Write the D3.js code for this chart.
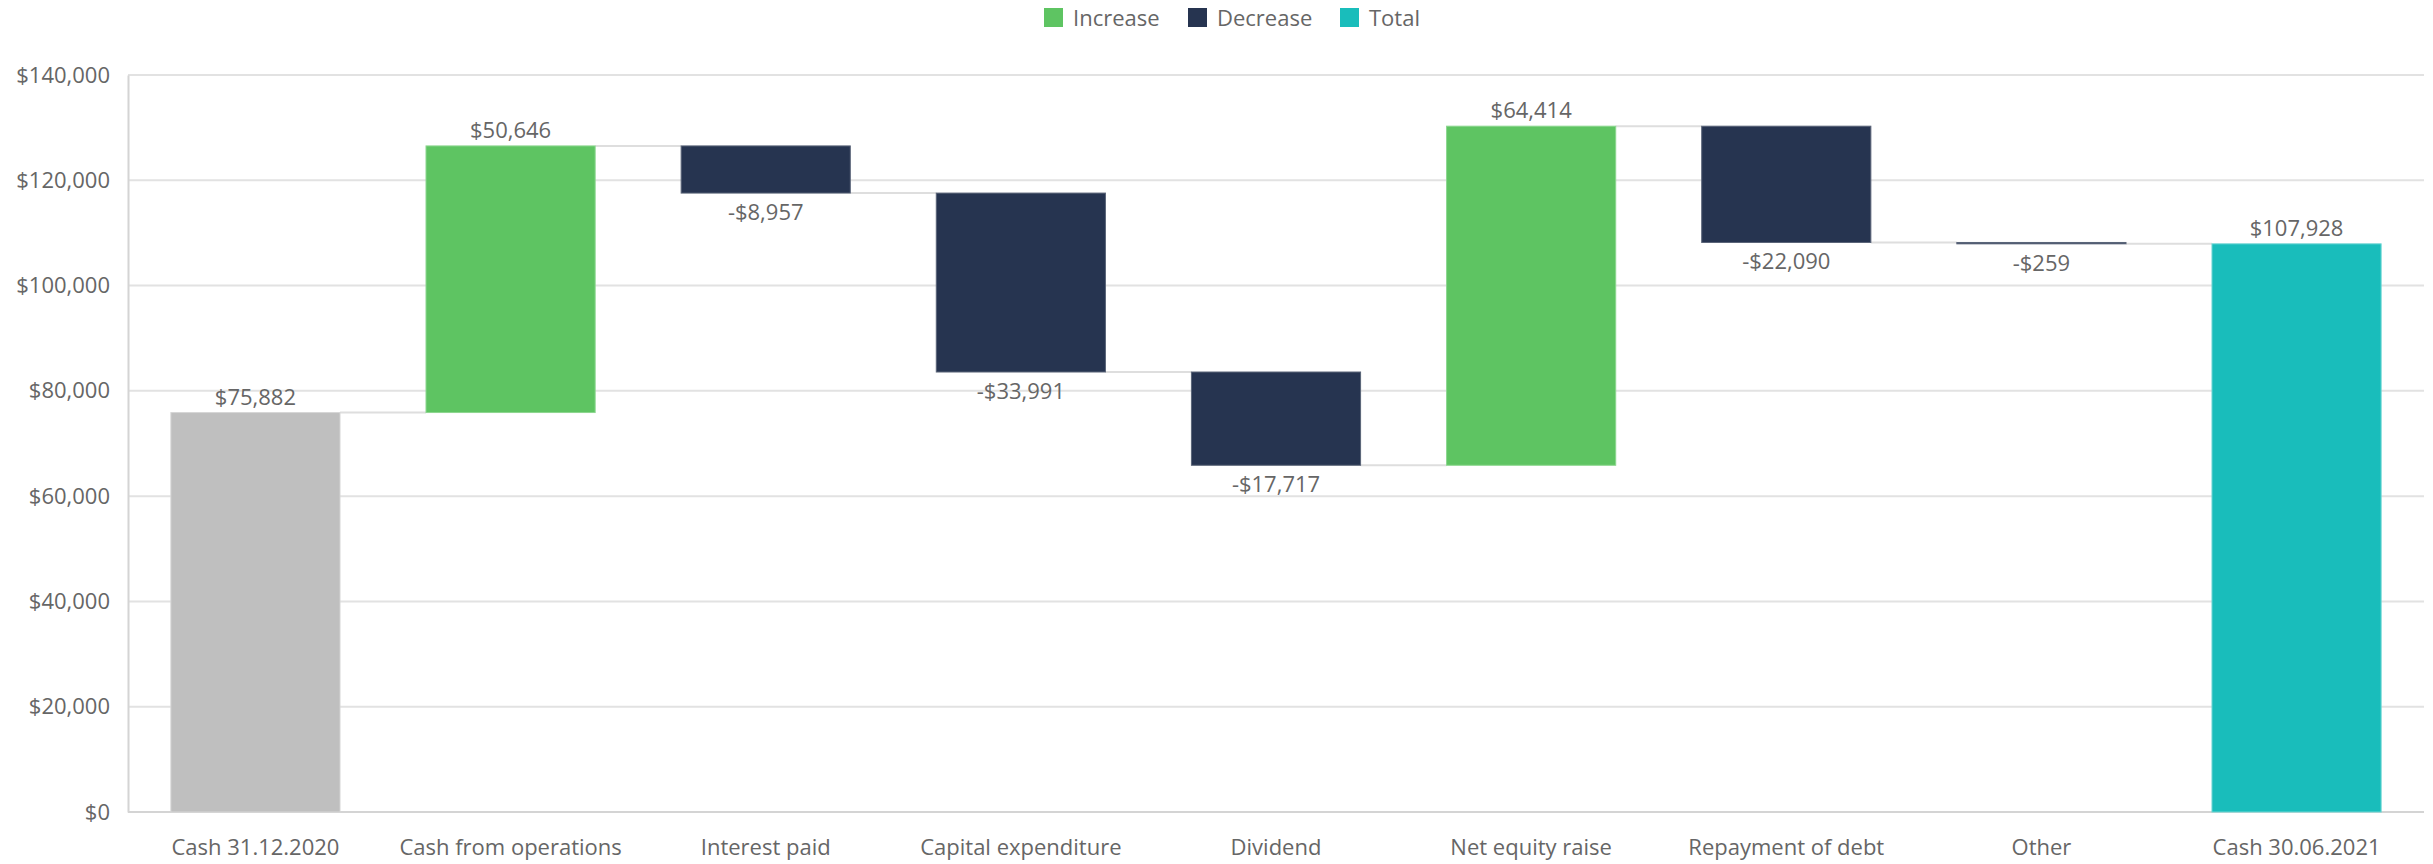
<!DOCTYPE html>
<html>
<head>
<meta charset="utf-8">
<script src="https://cdn.jsdelivr.net/npm/d3@7"></script>
<style>
  body { margin: 0; background: #fff; }
  svg text { font-family: "Open Sans", "Noto Sans", sans-serif; fill: #666; }
</style>
</head>
<body>
<div id="chart"></div>
<script>
// chart data
var categories = ["Cash 31.12.2020", "Cash from operations", "Interest paid", "Capital expenditure",
                  "Dividend", "Net equity raise", "Repayment of debt", "Other", "Cash 30.06.2021"];
var changes = [75882, 50646, -8957, -33991, -17717, 64414, -22090, -259, 107928];
var kinds = ["start", "inc", "dec", "dec", "dec", "inc", "dec", "dec", "total"];
var yTicks = [0, 20000, 40000, 60000, 80000, 100000, 120000, 140000];
var legendNames = ["Increase", "Decrease", "Total"];

var colors = { start: "#bfbfbf", inc: "#5ec462", dec: "#263450", total: "#19bdbb" };
var strokes = { start: "#d6d6d6", inc: "#8cd68f", dec: "#5a6478", total: "#6fd6d4" };

var W = 2433, H = 864;
var margin = { top: 75, right: 9, bottom: 52, left: 128 };
var w = W - margin.left - margin.right;
var h = H - margin.top - margin.bottom;

// build running totals
var running = 0;
var dataset = categories.map(function (c, i) {
  var d = { name: c, kind: kinds[i], value: changes[i] };
  if (d.kind == "start" || d.kind == "total") {
    d.y0 = 0; d.y1 = changes[i]; running = changes[i];
  } else {
    d.y0 = running; running = running + changes[i]; d.y1 = running;
  }
  return d;
});

var svg = d3.select("#chart").append("svg")
  .attr("width", W).attr("height", H);

var g = svg.append("g")
  .attr("transform", "translate(" + margin.left + "," + margin.top + ")");

var x = d3.scaleBand().domain(categories).range([0, w]).paddingInner(0.337).paddingOuter(0.168);
var y = d3.scaleLinear().domain([0, 140000]).range([h, 0]);

var fmt = function (v) { return (v < 0 ? "-$" : "$") + d3.format(",")(Math.abs(v)); };

// gridlines
g.selectAll("line.grid").data(yTicks).enter().append("line")
  .attr("class", "grid")
  .attr("x1", 0).attr("x2", w)
  .attr("y1", function (d) { return y(d); }).attr("y2", function (d) { return y(d); })
  .attr("stroke", function (d) { return d == 0 ? "#d4d4d4" : "#e2e2e2"; })
  .attr("stroke-width", 2);

// y axis
var yAxis = d3.axisLeft(y).tickValues(yTicks).tickSize(0).tickPadding(18)
  .tickFormat(function (d) { return "$" + d3.format(",")(d); });
g.append("g").call(yAxis)
  .call(function (a) { a.select(".domain").attr("stroke", "#d4d4d4").attr("stroke-width", 2); })
  .selectAll("text").style("font-size", "22px").attr("fill", "#666");

// x axis
var xAxis = d3.axisBottom(x).tickSize(0).tickPadding(27);
g.append("g").attr("transform", "translate(0," + h + ")").call(xAxis)
  .call(function (a) { a.select(".domain").remove(); })
  .selectAll("text").style("font-size", "22px").attr("fill", "#666");

// connector lines
g.selectAll("line.conn").data(dataset.slice(0, -1)).enter().append("line")
  .attr("class", "conn")
  .attr("x1", function (d) { return x(d.name) + x.bandwidth(); })
  .attr("x2", function (d, i) { return x(categories[i + 1]); })
  .attr("y1", function (d) { return y(d.y1); })
  .attr("y2", function (d) { return y(d.y1); })
  .attr("stroke", "#dedede").attr("stroke-width", 2);

// bars
g.selectAll("rect.bar").data(dataset).enter().append("rect")
  .attr("class", "bar")
  .attr("x", function (d) { return x(d.name); })
  .attr("width", x.bandwidth())
  .attr("y", function (d) { return y(Math.max(d.y0, d.y1)); })
  .attr("height", function (d) { return Math.max(1, Math.abs(y(d.y0) - y(d.y1))); })
  .attr("fill", function (d) { return colors[d.kind]; })
  .attr("stroke", function (d) { return strokes[d.kind]; })
  .attr("stroke-width", 1);

// value labels
g.selectAll("text.val").data(dataset).enter().append("text")
  .attr("class", "val")
  .attr("text-anchor", "middle")
  .attr("x", function (d) { return x(d.name) + x.bandwidth() / 2; })
  .attr("y", function (d) {
    return d.kind == "dec" ? y(d.y1) + 27 : y(d.y1) - 8;
  })
  .style("font-size", "22px")
  .text(function (d) { return fmt(d.value); });

// legend
var legend = svg.append("g").attr("transform", "translate(1044,8)");
var legendColors = [colors.inc, colors.dec, colors.total];
var offsets = [0, 144, 296];
legendNames.forEach(function (n, i) {
  var it = legend.append("g").attr("transform", "translate(" + offsets[i] + ",0)");
  it.append("rect").attr("width", 19).attr("height", 19).attr("fill", legendColors[i]);
  it.append("text").attr("x", 29).attr("y", 18).style("font-size", "22px").text(n);
});
</script>
</body>
</html>
